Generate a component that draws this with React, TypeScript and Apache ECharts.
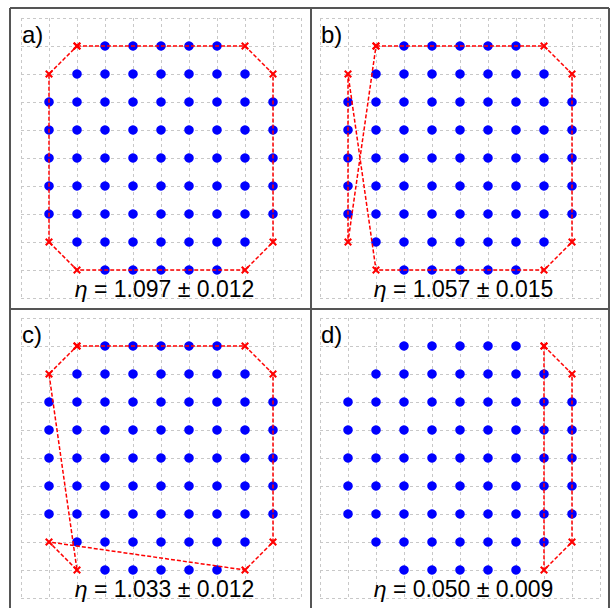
import React, { useEffect, useRef } from "react";
import * as echarts from "echarts";

// Blue dots: for each row (0 = top), the columns that hold a dot
const dotRows: number[][] = [
  [2, 3, 4, 5, 6],
  [1, 2, 3, 4, 5, 6, 7],
  [0, 1, 2, 3, 4, 5, 6, 7, 8],
  [0, 1, 2, 3, 4, 5, 6, 7, 8],
  [0, 1, 2, 3, 4, 5, 6, 7, 8],
  [0, 1, 2, 3, 4, 5, 6, 7, 8],
  [0, 1, 2, 3, 4, 5, 6, 7, 8],
  [1, 2, 3, 4, 5, 6, 7],
  [2, 3, 4, 5, 6],
];

// Red paths (column, row) per panel
const pathA: number[][] = [[1, 0], [7, 0], [8, 1], [8, 7], [7, 8], [1, 8], [0, 7], [0, 1], [1, 0]];
const pathB: number[][] = [[1, 0], [7, 0], [8, 1], [8, 7], [7, 8], [1, 8], [0, 1], [0, 7], [1, 0]];
const pathC: number[][] = [[1, 0], [7, 0], [8, 1], [8, 7], [7, 8], [0, 7], [1, 8], [0, 1], [1, 0]];
const pathD: number[][] = [[7, 0], [8, 1], [8, 7], [7, 8], [7, 0]];

const panelLabels = ["a)", "b)", "c)", "d)"];
const etaValues = ["1.097 ± 0.012", "1.057 ± 0.015", "1.033 ± 0.012", "0.050 ± 0.009"];

const CROSS =
  "path://M0,1.8L1.8,0L5,3.2L8.2,0L10,1.8L6.8,5L10,8.2L8.2,10L5,6.8L1.8,10L0,8.2L3.2,5Z";

const FONT = "'Liberation Sans', Arial, sans-serif";

export default function App() {
  const ref = useRef<HTMLDivElement>(null);
  useEffect(() => {
    if (!ref.current) return;
    const chart = echarts.init(ref.current, null, { renderer: "svg" });
    const paths = [pathA, pathB, pathC, pathD];
    const origins = [
      [21, 18],
      [320, 18],
      [21, 318],
      [320, 318],
    ];
    const dots: number[][] = [];
    dotRows.forEach((cols, r) => cols.forEach((c) => dots.push([c, r])));

    const splitLine = {
      show: true,
      lineStyle: { color: "#c8c8c8", type: [3, 3], width: 1 },
    };
    const axisBase = {
      type: "value",
      min: -1,
      max: 9,
      interval: 1,
      axisLabel: { show: false },
      axisTick: { show: false },
      axisLine: { show: false },
      splitLine,
    };

    const grids = origins.map(([l, t]) => ({ left: l, top: t, width: 280, height: 280 }));
    const xAxes = origins.map((_, i) => ({ ...axisBase, gridIndex: i }));
    const yAxes = origins.map((_, i) => ({ ...axisBase, gridIndex: i, inverse: true }));

    const series: any[] = [];
    paths.forEach((p, i) => {
      series.push({
        type: "scatter",
        xAxisIndex: i,
        yAxisIndex: i,
        data: dots,
        symbol: "circle",
        symbolSize: 9.5,
        itemStyle: { color: "#0000ff", opacity: 1 },
        z: 2,
        silent: true,
      });
      series.push({
        type: "line",
        xAxisIndex: i,
        yAxisIndex: i,
        data: p,
        symbol: CROSS,
        symbolSize: 8,
        showSymbol: true,
        itemStyle: { color: "#ff0000", opacity: 1 },
        lineStyle: { color: "#ff0000", width: 1.5, type: [4, 2] },
        z: 3,
        silent: true,
      });
    });

    const graphics: any[] = [];
    origins.forEach(([l, t], i) => {
      graphics.push({
        type: "text",
        x: l + 1,
        y: t + 16,
        style: {
          text: panelLabels[i],
          font: `24px ${FONT}`,
          fill: "#000",
          textAlign: "left",
          textVerticalAlign: "middle",
        },
        z: 10,
      });
      graphics.push({
        type: "text",
        x: l + 143.5,
        y: t + 271,
        style: {
          text: `{i|η} = ${etaValues[i]}`,
          font: `23px ${FONT}`,
          fill: "#000",
          textAlign: "center",
          textVerticalAlign: "middle",
          rich: {
            i: { fontStyle: "italic", fontSize: 23, fontFamily: FONT, fill: "#000" },
          },
        },
        z: 10,
      });
    });
    const border = { stroke: "#555", lineWidth: 2 };
    const lines = [
      [10, 8, 609, 8],
      [10, 8, 10, 620],
      [609, 8, 609, 620],
      [311, 8, 311, 620],
      [10, 309, 609, 309],
    ];
    lines.forEach(([x1, y1, x2, y2]) =>
      graphics.push({ type: "line", shape: { x1, y1, x2, y2 }, style: border, z: 20 })
    );

    chart.setOption({
      animation: false,
      backgroundColor: "#fff",
      grid: grids,
      xAxis: xAxes,
      yAxis: yAxes,
      series,
      graphic: graphics,
    });
    return () => chart.dispose();
  }, []);
  return (
    <div
      ref={ref}
      style={{ position: "fixed", left: 0, top: 0, width: 611, height: 608 }}
    />
  );
}
